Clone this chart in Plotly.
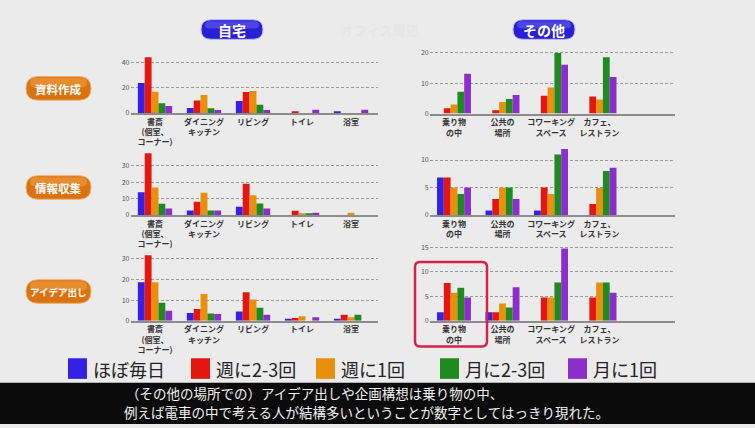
import plotly.graph_objects as go

W, H = 755, 428

freq_names = ["ほぼ毎日", "週に2-3回", "週に1回", "月に2-3回", "月に1回"]
freq_colors = ["#3322e6", "#e3170f", "#e8900c", "#1f8a1f", "#8b2ecb"]

task_names = ["資料作成", "情報収集", "アイデア出し"]
place_names = ["自宅", "その他"]

home_cats = ["書斎", "ダイニングキッチン", "リビング", "トイレ", "浴室"]
home_labels = ["書斎<br>(個室、<br>コーナー)", "ダイニング<br>キッチン", "リビング", "トイレ", "浴室"]
other_cats = ["乗り物の中", "公共の場所", "コワーキングスペース", "カフェ、レストラン"]
other_labels = ["乗り物<br>の中", "公共の<br>場所", "コワーキング<br>スペース", "カフェ、<br>レストラン"]

caption_lines = [
    "（その他の場所での）アイデア出しや企画構想は乗り物の中、",
    "例えば電車の中で考える人が結構多いということが数字としてはっきり現れた。",
]

# rows = frequency (ほぼ毎日 ... 月に1回), columns = places
home_docs = [
    [24, 4, 9.5, 0, 1],
    [44.5, 10, 16.7, 1, 0],
    [17, 14.4, 17.5, 0, 0],
    [7.8, 3.7, 6.5, 0, 0],
    [5.5, 2.3, 2.3, 2.5, 2.5],
]
home_info = [
    [13.8, 2.8, 5, 0, 0],
    [37.6, 8, 19, 2.6, 0],
    [16.8, 13.6, 12, 1, 1.3],
    [6.8, 2.8, 7, 1, 0],
    [4, 2.8, 4, 1.3, 0],
]
home_idea = [
    [18.7, 3.7, 4.4, 0.6, 0.8],
    [31.7, 5.7, 13.8, 1.3, 2.9],
    [18.7, 12.9, 10.3, 2.2, 1.6],
    [8.7, 3.5, 6.3, 0, 2.9],
    [4.8, 3.2, 2.9, 1.7, 0],
]
other_docs = [
    [0, 0, 0, 0],
    [1.8, 1.1, 5.9, 5.6],
    [3, 3.8, 8.6, 4.6],
    [7.2, 4.8, 19.9, 18.5],
    [13.1, 6.1, 16.1, 12],
]
other_info = [
    [6.8, 0.8, 0.8, 0],
    [6.8, 2.9, 5, 2],
    [5, 5, 3.8, 4.9],
    [3.8, 5, 11, 8],
    [5, 2.9, 12, 8.6],
]
other_idea = [
    [1.7, 1.7, 0, 0],
    [7.7, 1.7, 4.7, 4.7],
    [5.7, 3.5, 4.7, 7.8],
    [6.7, 2.7, 7.8, 7.8],
    [4.7, 6.8, 14.7, 5.7],
]

home_ticks = [[0, 20, 40], [0, 10, 20, 30], [0, 10, 20, 30]]
other_ticks = [[0, 10, 20], [0, 5, 10], [0, 5, 10, 15]]


def px(x):
    return x / W


def py(y):
    return 1 - y / H


# panel layout (pixels): x domain, zero-line y, px per unit, y max
panels = [
    (home_docs, home_cats, home_labels, home_ticks[0], (130.5, 378), 111, 1.275, 46),
    (other_docs, other_cats, other_labels, other_ticks[0], (429.75, 674.7), 111.7, 3.1, 20.5),
    (home_info, home_cats, home_labels, home_ticks[1], (130.5, 378), 215, 1.67, 38.5),
    (other_info, other_cats, other_labels, other_ticks[1], (429.75, 674.7), 215, 5.6, 12.3),
    (home_idea, home_cats, home_labels, home_ticks[2], (130.5, 378), 322.7, 2.1, 32.5),
    (other_idea, other_cats, other_labels, other_ticks[2], (429.75, 674.7), 322.7, 5.0, 15.3),
]

fig = go.Figure()
layout = dict(
    width=W, height=H, margin=dict(l=0, r=0, t=0, b=0), autosize=False,
    paper_bgcolor="#ebebeb", plot_bgcolor="rgba(0,0,0,0)",
    barmode="group", bargap=0.3, bargroupgap=0, showlegend=False,
    font=dict(family="Noto Sans CJK JP"),
)

for i, (data, cats, labels, ticks, xdom, zero_y, scale, ymax) in enumerate(panels):
    n = "" if i == 0 else str(i + 1)
    for f in range(len(freq_names)):
        fig.add_trace(go.Bar(
            x=cats, y=data[f], name=freq_names[f], marker_color=freq_colors[f],
            marker_line_width=0, xaxis="x" + n, yaxis="y" + n,
        ))
    top = zero_y - ymax * scale
    layout["xaxis" + n] = dict(
        domain=[px(xdom[0]), px(xdom[1])], anchor="y" + n,
        type="category", range=[-0.5, 4.55],
        tickvals=cats, ticktext=labels,
        tickfont=dict(size=8, color="#333", weight="bold"),
        showline=True, linecolor="#8c8c8c", linewidth=2,
        showgrid=False, ticks="", fixedrange=True,
    )
    layout["yaxis" + n] = dict(
        domain=[py(zero_y), py(top)], anchor="x" + n,
        range=[0, ymax], tickvals=ticks,
        tickfont=dict(size=7, color="#555"),
        showgrid=True, gridcolor="#9a9a9a", gridwidth=1, griddash="3px,2px",
        zeroline=False, showline=False, ticks="", fixedrange=True,
    )

fig.update_layout(**layout)


def rrect(x0, y0, x1, y1, r):
    def P(x, y):
        return f"{px(x):.5f},{py(y):.5f}"
    return (f"M {P(x0 + r, y0)} L {P(x1 - r, y0)} Q {P(x1, y0)} {P(x1, y0 + r)} "
            f"L {P(x1, y1 - r)} Q {P(x1, y1)} {P(x1 - r, y1)} L {P(x0 + r, y1)} "
            f"Q {P(x0, y1)} {P(x0, y1 - r)} L {P(x0, y0 + r)} Q {P(x0, y0)} {P(x0 + r, y0)} Z")


shapes = []
annots = []


def label(x, y, text, font, xanchor="center", align="center"):
    annots.append(dict(x=px(x), y=py(y), xref="paper", yref="paper", text=text,
                       xanchor=xanchor, yanchor="middle", align=align,
                       showarrow=False, font=font))


# header pills
for name, cx in zip(place_names, [232, 544]):
    shapes.append(dict(type="path", xref="paper", yref="paper",
                       path=rrect(cx - 31, 16, cx + 31, 36, 10),
                       fillcolor="#2a1fd2", line=dict(color="#bdbaf0", width=1)))
    shapes.append(dict(type="path", xref="paper", yref="paper",
                       path=rrect(cx - 27, 17.5, cx + 27, 25, 4),
                       fillcolor="rgba(120,110,255,0.45)", line=dict(width=0)))
    label(cx, 26.5, name, dict(size=14, color="white", weight="bold"))

label(380, 26, "オフィス周辺", dict(size=13, color="#e6e6e6", weight="bold"))

# task pills
for name, cy in zip(task_names, [86, 187, 293]):
    shapes.append(dict(type="path", xref="paper", yref="paper",
                       path=rrect(26, cy - 12, 91, cy + 12, 12),
                       fillcolor="#d9730f", line=dict(color="#f0b070", width=1)))
    shapes.append(dict(type="path", xref="paper", yref="paper",
                       path=rrect(30, cy - 10.5, 87, cy - 1, 5),
                       fillcolor="rgba(255,190,110,0.35)", line=dict(width=0)))
    fs = 11.5 if len(name) <= 4 else 9.5
    label(58.5, cy + 0.5, name, dict(size=fs, color="white", weight="bold"))

# highlight box
shapes.append(dict(type="path", xref="paper", yref="paper",
                   path=rrect(415, 263, 487, 349, 5),
                   fillcolor="rgba(0,0,0,0)", line=dict(color="#d4234b", width=2.5)))

# legend
leg_sq = [68, 191, 316, 440, 568]
for name, col, x0 in zip(freq_names, freq_colors, leg_sq):
    shapes.append(dict(type="rect", xref="paper", yref="paper",
                       x0=px(x0), x1=px(x0 + 19), y0=py(382), y1=py(361),
                       fillcolor=col, line=dict(width=0)))
    label(x0 + 23, 372, name, dict(size=18, color="#222"), xanchor="left")

# caption band
shapes.append(dict(type="rect", xref="paper", yref="paper", x0=0, x1=1,
                   y0=0, y1=py(386), fillcolor="#0b0b0b", line=dict(width=0), layer="below"))
for line, (cx, cy) in zip(caption_lines, [(124, 396.5), (122, 416)]):
    label(cx, cy, line, dict(size=13.5, color="#f2f2f2"), xanchor="left", align="left")

fig.update_layout(shapes=shapes, annotations=annots)
fig.write_html("out.html")
